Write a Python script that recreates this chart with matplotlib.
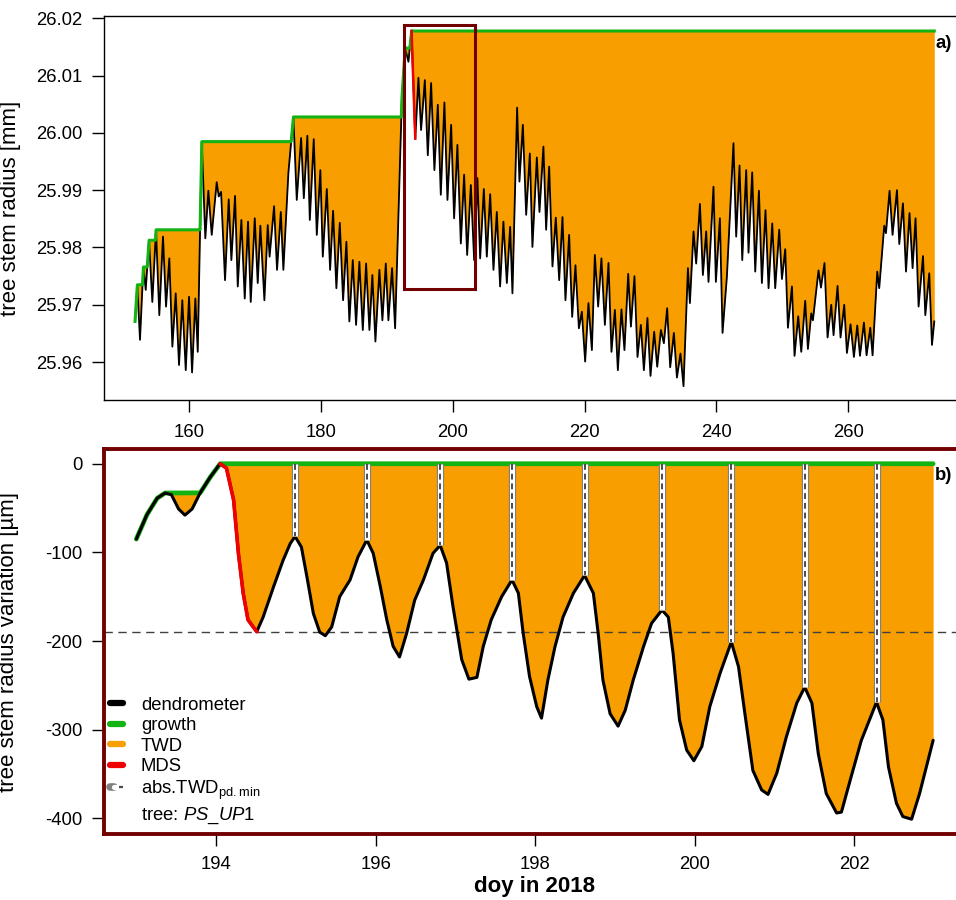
import numpy as np
import matplotlib
matplotlib.use('Agg')
import matplotlib.pyplot as plt
from matplotlib.lines import Line2D
from matplotlib.patches import Rectangle
from matplotlib.legend_handler import HandlerTuple

plt.rcParams['font.family'] = ['Liberation Sans', 'DejaVu Sans']
plt.rcParams['font.size'] = 13.3
plt.rcParams['axes.unicode_minus'] = False
plt.rcParams['mathtext.fontset'] = 'custom'
plt.rcParams['mathtext.rm'] = 'Liberation Sans'
plt.rcParams['mathtext.it'] = 'Liberation Sans:italic'
plt.rcParams['mathtext.bf'] = 'Liberation Sans:bold'

#--- panel a) : dendrometer record, daily max / min (doy, mm)
top_doy = [151.81, 152.15, 152.56, 153.07, 153.43, 153.93, 154.43, 154.99, 155.49, 156.05,
           156.51, 157.01, 157.47, 157.98, 158.48, 158.98, 159.50, 160.00, 160.46, 160.96,
           161.32, 161.93, 162.47, 162.93, 163.44, 164.20, 164.51, 164.86, 165.46, 166.02,
           166.42, 166.98, 167.39, 167.94, 168.45, 168.95, 169.36, 169.97, 170.42, 170.82,
           171.43, 171.94, 172.22, 172.90, 173.35, 173.92, 174.31, 175.07, 175.83, 176.34,
           177.00, 177.41, 177.95, 178.32, 178.92, 179.38, 179.92, 180.29, 180.90, 181.40,
           181.85, 182.35, 182.87, 183.37, 183.87, 184.32, 184.84, 185.34, 185.84, 186.36,
           186.86, 187.36, 187.81, 188.27, 188.88, 189.33, 189.85, 190.24, 190.80, 191.26,
           192.28, 192.78, 193.28, 193.75, 194.32, 194.80, 195.20, 195.77, 196.22, 196.72,
           197.22, 197.74, 198.19, 198.74, 199.20, 199.76, 200.21, 200.71, 201.23, 201.73,
           202.19, 202.75, 203.25, 203.75, 204.16, 204.72, 205.17, 205.68, 206.18, 206.69,
           207.19, 207.69, 208.21, 208.71, 209.06, 209.77, 210.12, 210.64, 211.14, 211.70,
           212.09, 212.76, 213.16, 213.76, 214.17, 214.63, 215.13, 215.64, 216.15, 216.65,
           217.10, 217.66, 218.12, 218.62, 219.14, 219.59, 220.09, 220.59, 221.11, 221.56,
           222.06, 222.56, 223.08, 223.63, 224.08, 224.60, 225.05, 225.60, 226.05, 226.62,
           227.03, 227.57, 228.03, 228.54, 229.00, 229.54, 230.00, 230.56, 231.02, 231.58,
           232.03, 232.53, 232.99, 233.55, 234.01, 234.55, 235.01, 235.68, 235.98, 236.53,
           236.93, 237.50, 237.95, 238.45, 238.80, 239.56, 239.92, 240.53, 240.93, 241.59,
           242.59, 243.00, 243.51, 243.92, 244.52, 244.87, 245.43, 245.89, 246.45, 246.90,
           247.45, 247.91, 248.47, 248.92, 249.53, 249.94, 250.44, 250.85, 251.46, 251.85,
           252.41, 252.87, 253.47, 253.88, 254.39, 254.64, 255.49, 255.86, 256.40, 256.86,
           257.42, 257.77, 258.38, 258.83, 259.39, 259.80, 260.35, 260.86, 261.37, 261.78,
           262.38, 262.78, 263.34, 263.69, 264.40, 264.70, 265.46, 265.72, 266.27, 266.72,
           267.39, 267.74, 268.30, 268.76, 269.30, 269.76, 270.21, 270.67, 271.34, 271.69,
           272.29, 272.70, 273.05]
top_radius = [25.9671, 25.9735, 25.9639, 25.9766, 25.9726, 25.9813, 25.9705, 25.9831, 25.9682, 25.9819,
              25.9697, 25.9781, 25.9627, 25.9720, 25.9595, 25.9708, 25.9586, 25.9714, 25.9582, 25.9711,
              25.9618, 25.9985, 25.9816, 25.9899, 25.9822, 25.9914, 25.9889, 25.9897, 25.9743, 25.9884,
              25.9778, 25.9890, 25.9732, 25.9848, 25.9711, 25.9845, 25.9705, 25.9851, 25.9738, 25.9838,
              25.9708, 25.9839, 25.9784, 25.9872, 25.9761, 25.9862, 25.9761, 25.9930, 26.0028, 25.9883,
              25.9991, 25.9886, 25.9995, 25.9848, 25.9989, 25.9822, 25.9935, 25.9784, 25.9902, 25.9761,
              25.9864, 25.9729, 25.9843, 25.9708, 25.9810, 25.9671, 25.9778, 25.9665, 25.9775, 25.9656,
              25.9772, 25.9656, 25.9752, 25.9636, 25.9761, 25.9673, 25.9772, 25.9673, 25.9764, 25.9659,
              26.0057, 26.0148, 26.0124, 26.0178, 25.9990, 26.0096, 26.0005, 26.0092, 25.9961, 26.0087,
              25.9935, 26.0049, 25.9892, 26.0053, 25.9883, 26.0014, 25.9851, 25.9979, 25.9807, 25.9927,
              25.9787, 25.9909, 25.9778, 25.9921, 25.9781, 25.9902, 25.9784, 25.9893, 25.9761, 25.9862,
              25.9732, 25.9845, 25.9738, 25.9836, 25.9720, 26.0044, 25.9915, 26.0014, 25.9857, 25.9964,
              25.9801, 25.9957, 25.9862, 25.9976, 25.9831, 25.9941, 25.9767, 25.9852, 25.9743, 25.9853,
              25.9708, 25.9822, 25.9679, 25.9769, 25.9659, 25.9688, 25.9601, 25.9703, 25.9621, 25.9787,
              25.9697, 25.9781, 25.9665, 25.9773, 25.9618, 25.9691, 25.9586, 25.9692, 25.9621, 25.9754,
              25.9662, 25.9750, 25.9609, 25.9665, 25.9586, 25.9677, 25.9576, 25.9653, 25.9592, 25.9656,
              25.9633, 25.9694, 25.9591, 25.9651, 25.9573, 25.9615, 25.9558, 25.9764, 25.9703, 25.9828,
              25.9772, 25.9876, 25.9752, 25.9828, 25.9740, 25.9906, 25.9740, 25.9851, 25.9651, 25.9749,
              25.9982, 25.9819, 25.9943, 25.9778, 25.9935, 25.9791, 25.9931, 25.9758, 25.9899, 25.9738,
              25.9865, 25.9729, 25.9842, 25.9729, 25.9831, 25.9745, 25.9797, 25.9660, 25.9732, 25.9611,
              25.9680, 25.9618, 25.9707, 25.9623, 25.9685, 25.9673, 25.9760, 25.9730, 25.9773, 25.9643,
              25.9700, 25.9647, 25.9733, 25.9643, 25.9700, 25.9616, 25.9666, 25.9609, 25.9664, 25.9611,
              25.9669, 25.9612, 25.9660, 25.9612, 25.9758, 25.9729, 25.9838, 25.9825, 25.9899, 25.9822,
              25.9900, 25.9806, 25.9877, 25.9758, 25.9860, 25.9764, 25.9851, 25.9697, 25.9785, 25.9682,
              25.9755, 25.9630, 25.9671]

#--- panel b) : zoom on doy 193 - 203 (doy, um)
zoom_doy = [193.00, 193.13, 193.26, 193.36, 193.44, 193.53, 193.61, 193.70, 193.80, 193.92,
            194.05, 194.13, 194.22, 194.28, 194.34, 194.40, 194.51, 194.59, 194.72, 194.84,
            194.93, 194.99, 195.07, 195.14, 195.22, 195.30, 195.37, 195.45, 195.55, 195.68,
            195.78, 195.89, 195.97, 196.06, 196.14, 196.22, 196.30, 196.39, 196.49, 196.60,
            196.72, 196.81, 196.89, 196.97, 197.08, 197.17, 197.27, 197.35, 197.45, 197.58,
            197.71, 197.79, 197.85, 197.93, 198.02, 198.08, 198.16, 198.25, 198.35, 198.48,
            198.62, 198.73, 198.79, 198.85, 198.94, 199.04, 199.13, 199.23, 199.36, 199.46,
            199.59, 199.67, 199.73, 199.81, 199.90, 199.99, 200.09, 200.19, 200.32, 200.46,
            200.55, 200.63, 200.73, 200.84, 200.92, 201.03, 201.15, 201.28, 201.38, 201.47,
            201.55, 201.65, 201.78, 201.84, 201.95, 202.09, 202.28, 202.36, 202.43, 202.53,
            202.61, 202.72, 202.82, 202.99]
zoom_var = [-85, -58, -39, -33, -35, -51, -58, -51, -33, -16,
            0, -5, -41, -101, -146, -176, -189.5, -173, -139, -109,
            -90, -82, -94, -128, -169, -190, -194, -184, -150, -131,
            -105, -86, -101, -139, -176, -206, -218, -191, -154, -131,
            -101, -92, -112, -161, -221, -243, -241, -206, -176, -150,
            -131, -146, -191, -240, -274, -287, -244, -206, -173, -146,
            -126, -146, -191, -244, -282, -296, -278, -244, -206, -180,
            -165, -173, -214, -289, -323, -335, -319, -274, -236, -201,
            -229, -282, -346, -368, -373, -349, -308, -270, -252, -270,
            -327, -372, -394, -393, -357, -312, -269, -289, -342, -383,
            -398, -401, -372, -312]

zoom_box = (192.6, 203.4, 25.9728, 26.0188)   # doy from, doy to, mm from, mm to

c_green = '#12B312'
c_twd = '#F89E00'
c_mds = '#F00000'
c_box = '#730000'


def growth_of(t, y):
    # zero growth line = running maximum of the dendrometer line
    tf = np.linspace(t[0], t[-1], 30001)
    yf = np.interp(tf, t, y)
    return tf, yf, np.maximum.accumulate(yf)


def mds_of(y):
    i0 = int(np.argmax(y))
    i1 = i0 + 1
    while i1 < len(y) - 1 and y[i1 + 1] < y[i1]:
        i1 += 1
    return i0, i1


fig = plt.figure(figsize=(9.56, 9.0), dpi=100)
ax1 = fig.add_axes([0.1092, 0.5556, 0.9011, 0.4267])
ax2 = fig.add_axes([0.1092, 0.0733, 0.9011, 0.4278])

#============== panel a) ===============
t1 = np.array(top_doy)
y1 = np.array(top_radius)
tf, yf, gf = growth_of(t1, y1)
ax1.fill_between(tf, yf, gf, color=c_twd, lw=0)
ax1.plot(t1, y1, color='black', lw=1.3, zorder=3)
ax1.plot(tf, gf, color=c_green, lw=2.2, zorder=4)
i0, i1 = mds_of(y1)
ax1.plot(t1[i0:i1 + 1], y1[i0:i1 + 1], color=c_mds, lw=1.8, zorder=5)
ax1.add_patch(Rectangle((zoom_box[0], zoom_box[2]), zoom_box[1] - zoom_box[0],
                        zoom_box[3] - zoom_box[2], fill=False, ec=c_box, lw=2.2, zorder=6))

ax1.set_xlim(147.16, 277.84)
ax1.set_ylim(25.9534, 26.0204)
ax1.set_xticks([160, 180, 200, 220, 240, 260])
ax1.set_yticks([25.96, 25.97, 25.98, 25.99, 26.00, 26.01, 26.02])
ax1.set_yticklabels(['%.2f' % v for v in ax1.get_yticks()])
ax1.tick_params(axis='both', length=8.6, width=1.0, direction='out')
ax1.tick_params(axis='x', pad=9)
ax1.tick_params(axis='y', pad=7)
for s in ax1.spines.values():
    s.set_linewidth(1.0)
ax1.set_ylabel('tree stem radius [mm]', fontsize=16)
ax1.yaxis.set_label_coords(-0.097, 0.5)
fig.text(936 / 956, 1 - 43 / 900, 'a)', fontweight='bold', ha='left', va='center')

#============== panel b) ===============
t2 = np.array(zoom_doy)
y2 = np.array(zoom_var, dtype=float)
tf2, yf2, gf2 = growth_of(t2, y2)
ax2.fill_between(tf2, yf2, gf2, color=c_twd, lw=0)
ax2.plot(tf2, gf2, color=c_green, lw=3.4, zorder=3, solid_capstyle='round')
ax2.plot(t2, y2, color='black', lw=2.2, zorder=4, solid_capstyle='round')
j0, j1 = mds_of(y2)
ax2.plot(t2[j0:j1 + 1], y2[j0:j1 + 1], color=c_mds, lw=2.6, zorder=5, solid_capstyle='round')
ax2.axhline(y2[j1], color='#404040', lw=1.0, ls=(0, (6, 4)), zorder=2)

# abs.TWD at each pre-dawn maximum after the MDS
peaks = [i for i in range(j1 + 1, len(y2) - 1) if y2[i] > y2[i - 1] and y2[i] > y2[i + 1]]
for i in peaks:
    ax2.plot([t2[i], t2[i]], [0, y2[i]], color='#808080', lw=5.2, zorder=6, solid_capstyle='butt')
    ax2.plot([t2[i], t2[i]], [0, y2[i]], color='white', lw=3.6, zorder=7, solid_capstyle='butt')
    ax2.plot([t2[i], t2[i]], [0, y2[i]], color='#4A4A4A', lw=1.4, ls=(0, (3, 2)), zorder=8)

ax2.set_xlim(192.6, 203.4)
ax2.set_ylim(-417.7, 16.6)
ax2.set_xticks([194, 196, 198, 200, 202])
ax2.set_yticks([0, -100, -200, -300, -400])
ax2.tick_params(axis='both', length=8.6, width=1.0, direction='out')
ax2.tick_params(axis='x', pad=7)
ax2.tick_params(axis='y', pad=7)
for s in ax2.spines.values():
    s.set_linewidth(2.8)
    s.set_color(c_box)
ax2.set_ylabel('tree stem radius variation [µm]', fontsize=16)
ax2.yaxis.set_label_coords(-0.099, 0.5)
fig.text(935 / 956, 1 - 475 / 900, 'b)', fontweight='bold', ha='left', va='center')
fig.text(535 / 956, 0.003, 'doy in 2018', fontweight='bold', fontsize=16,
         ha='center', va='bottom')

h_twd = (Line2D([], [], color='#808080', lw=5.5, solid_capstyle='round'),
         Line2D([], [], color='white', lw=3.8, solid_capstyle='round'),
         Line2D([], [], color='#4A4A4A', lw=1.6, ls=(0, (2, 1.5))))
handles = [Line2D([], [], color='black', lw=4.5, solid_capstyle='round'),
           Line2D([], [], color=c_green, lw=4.5, solid_capstyle='round'),
           Line2D([], [], color=c_twd, lw=4.5, solid_capstyle='round'),
           Line2D([], [], color=c_mds, lw=4.5, solid_capstyle='round'),
           h_twd,
           Line2D([], [], color='none')]
labels = ['dendrometer', 'growth', 'TWD', 'MDS',
          r'abs.TWD$_{\mathrm{pd{.}min}}$', r'tree: $\mathit{PS\_UP}$1']
ax2.legend(handles, labels, loc='upper left', bbox_to_anchor=(0.006, 0.357),
           frameon=False, borderpad=0, borderaxespad=0, handlelength=0.75,
           handletextpad=0.95, labelspacing=0.19,
           handler_map={tuple: HandlerTuple(ndivide=None, pad=0)})

fig.savefig('out.png', dpi=100)
